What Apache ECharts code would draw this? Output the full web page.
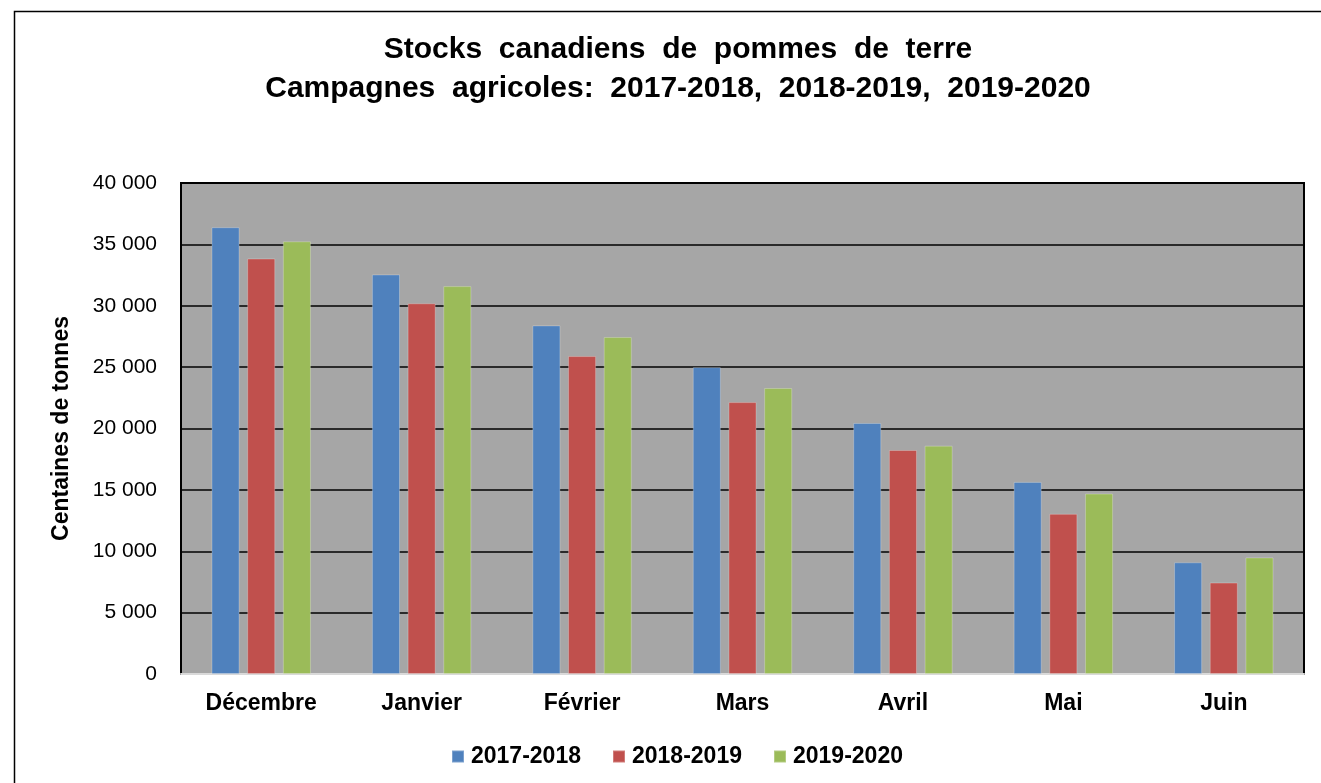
<!DOCTYPE html>
<html>
<head>
<meta charset="utf-8">
<script src="https://cdn.jsdelivr.net/npm/echarts@6/dist/echarts.min.js"></script>
<style>
  html, body { margin: 0; padding: 0; background: #fff; }
  #chart { width: 1321px; height: 783px; }
</style>
</head>
<body>
<div id="chart"></div>
<script>
// mois de la campagne
const months = ["Décembre", "Janvier", "Février", "Mars", "Avril", "Mai", "Juin"];
const seriesNames = ["2017-2018", "2018-2019", "2019-2020"];
// centaines de tonnes
const stocks1718 = [36400, 32550, 28400, 25000, 20450, 15650, 9100];
const stocks1819 = [33850, 30200, 25900, 22150, 18250, 13050, 7450];
const stocks1920 = [35250, 31600, 27450, 23300, 18600, 14700, 9500];
const yTicks = [0, 5000, 10000, 15000, 20000, 25000, 30000, 35000, 40000];
const colors = ["#4f81bd", "#c0504d", "#9bbb59"];

const chart = echarts.init(document.getElementById("chart"));

const fmt = v => String(v).replace(/\B(?=(\d{3})+(?!\d))/g, " ");

const makeSeries = (name, data, i) => ({
  name: name,
  type: "bar",
  data: data,
  barGap: "27%",
  barCategoryGap: "38%",
  itemStyle: { color: colors[i], borderColor: "rgba(255,255,255,0.25)", borderWidth: 1 }
});

const option = {
  animation: false,
  textStyle: { fontFamily: "Liberation Sans, Arial, sans-serif" },
  graphic: [{
    type: "rect",
    left: 12, top: 9,
    shape: { width: 1400, height: 900 },
    style: { fill: "none", stroke: "#000", lineWidth: 1.5 },
    silent: true
  }],
  title: {
    text: "Stocks  canadiens  de  pommes  de  terre\nCampagnes  agricoles:  2017-2018,  2018-2019,  2019-2020",
    left: 673, top: 25, textAlign: "center",
    textStyle: { fontSize: 30, fontWeight: "bold", color: "#000", lineHeight: 39 }
  },
  legend: {
    data: seriesNames,
    left: 446, top: 740,
    icon: "rect", itemWidth: 12, itemHeight: 12, itemGap: 31,
    textStyle: { fontSize: 23, fontWeight: "bold", color: "#000", padding: [0, 0, 0, 2] }
  },
  grid: {
    left: 181, top: 183, right: 17, bottom: 109,
    show: true, backgroundColor: "#a6a6a6",
    borderColor: "#000", borderWidth: 2
  },
  xAxis: {
    type: "category",
    data: months,
    axisTick: { show: false },
    axisLine: { lineStyle: { color: "#d9d9d9", width: 2 } },
    axisLabel: { fontSize: 23, fontWeight: "bold", color: "#000", margin: 18 }
  },
  yAxis: {
    type: "value",
    min: yTicks[0], max: yTicks[yTicks.length - 1], interval: 5000,
    name: "Centaines de tonnes",
    nameLocation: "middle", nameGap: 108,
    nameTextStyle: { fontSize: 23, fontWeight: "bold", color: "#000" },
    axisLine: { show: true, lineStyle: { color: "#000", width: 2 } },
    axisTick: { show: false },
    axisLabel: { fontSize: 21, color: "#000", margin: 24, formatter: fmt },
    splitLine: { lineStyle: { color: "#000", width: 1.5 } }
  },
  series: [
    makeSeries(seriesNames[0], stocks1718, 0),
    makeSeries(seriesNames[1], stocks1819, 1),
    makeSeries(seriesNames[2], stocks1920, 2)
  ]
};

chart.setOption(option);
</script>
</body>
</html>
